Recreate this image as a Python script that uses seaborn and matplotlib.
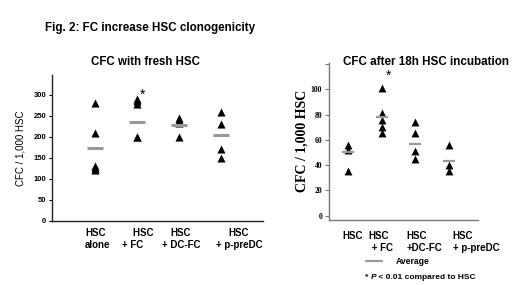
import matplotlib
matplotlib.use('Agg')
import matplotlib.pyplot as plt
from matplotlib.lines import Line2D
import pandas as pd
import seaborn as sns

# ---- data ----
groups_fresh = ['HSC\nalone', '    HSC\n+ FC', 'HSC\n+ DC-FC', 'HSC\n+ p-preDC']
cfc_fresh = [
    [280, 210, 130, 125, 120],
    [290, 285, 278, 200, 200],
    [245, 240, 232, 200],
    [260, 230, 170, 150],
]
mean_fresh = [174, 236, 228, 204]

groups_incub = ['HSC', 'HSC\n + FC', 'HSC\n+DC-FC', 'HSC\n+ p-preDC']
cfc_incub = [
    [56, 52, 35],
    [101, 81, 76, 70, 65],
    [74, 65, 51, 45],
    [56, 40, 35],
]
mean_incub = [50, 78, 57, 43]

fresh_ticks = [0, 50, 100, 150, 200, 250, 300]
incub_ticks = [0, 20, 40, 60, 80, 100, 120]


def to_long(values):
    rows = []
    for i, vals in enumerate(values):
        for v in vals:
            rows.append({'pos': i, 'cfc': v})
    return pd.DataFrame(rows)


def group_labels(ax, labels, offsets_px, align, pad_px):
    # category names under the axis, nudged like in the original slide
    for i, (txt, dx, ma) in enumerate(zip(labels, offsets_px, align)):
        ax.annotate(txt, xy=(i, 0), xycoords=('data', 'axes fraction'),
                    xytext=(dx, -pad_px), textcoords='offset pixels',
                    ha='center', va='top', multialignment=ma,
                    fontsize=7, fontweight='bold', linespacing=1.3)


df_fresh = to_long(cfc_fresh)
df_incub = to_long(cfc_incub)

sns.set_style('white')
plt.rcParams['font.family'] = ['Liberation Sans', 'DejaVu Sans']
plt.rcParams['text.color'] = 'black'
plt.rcParams['axes.labelcolor'] = 'black'
plt.rcParams['xtick.color'] = 'black'
plt.rcParams['ytick.color'] = 'black'

fig = plt.figure(figsize=(5.2, 2.85), dpi=100)
ax1 = fig.add_axes([0.0994, 0.2246, 0.4066, 0.5124])
ax2 = fig.add_axes([0.633, 0.228, 0.286, 0.552])

fig.text(0.087, 0.903, 'Fig. 2: FC increase HSC clonogenicity',
         fontsize=8.4, fontweight='bold', va='center')

# ---- left panel: fresh HSC ----
sns.scatterplot(data=df_fresh, x='pos', y='cfc', marker='^', color='black',
                s=34, linewidth=0, ax=ax1, legend=False)
for i, m in enumerate(mean_fresh):
    ax1.hlines(m, i - 0.19, i + 0.19, color='#999999', lw=2.2)
ax1.annotate('*', xy=(1, max(cfc_fresh[1])), xytext=(2, -2),
             textcoords='offset points', fontsize=10, ha='left', va='bottom')

ax1.set_xlim(-1.03, 4.0)
ax1.set_ylim(0, 347)
ax1.set_yticks(fresh_ticks)
ax1.set_yticklabels([str(t) for t in fresh_ticks], fontsize=5.5, fontweight='bold')
ax1.set_xticks([])
group_labels(ax1, groups_fresh, [3, 1, 2, 18],
             ['left', 'left', 'center', 'center'], 7)
ax1.tick_params(axis='y', length=2, width=0.8, pad=2, left=True)
ax1.set_xlabel('')
ax1.set_ylabel('CFC / 1,000 HSC', fontsize=7, labelpad=6)
ax1.text(0.443, 1.089, 'CFC with fresh HSC', transform=ax1.transAxes,
         fontsize=8.3, fontweight='bold', ha='center', va='center')
for s in ['top', 'right']:
    ax1.spines[s].set_visible(False)
for s in ['left', 'bottom']:
    ax1.spines[s].set_color('#222222')
    ax1.spines[s].set_linewidth(1.0)

# ---- right panel: after 18h incubation ----
sns.scatterplot(data=df_incub, x='pos', y='cfc', marker='^', color='black',
                s=32, linewidth=0, ax=ax2, legend=False)
for i, m in enumerate(mean_incub):
    ax2.hlines(m, i - 0.18, i + 0.18, color='#999999', lw=1.6)
ax2.annotate('*', xy=(1, max(cfc_incub[1])), xytext=(3, 4),
             textcoords='offset points', fontsize=10, ha='left', va='bottom')

ax2.set_xlim(-0.56, 3.86)
ax2.set_ylim(-3.5, 121)
ax2.set_yticks(incub_ticks)
ax2.set_yticklabels([str(t) if t < 120 else '' for t in incub_ticks],
                    fontsize=5.5, fontweight='bold', family='Liberation Serif')
ax2.set_xticks([])
group_labels(ax2, groups_incub, [5, -1, 9, 27],
             ['left', 'left', 'left', 'left'], 11)
ax2.tick_params(axis='y', length=3, width=0.8, pad=2, left=True, color='#777777')
ax2.set_xlabel('')
ax2.set_ylabel('CFC / 1,000 HSC', fontsize=10, fontweight='bold',
               family='Liberation Serif', labelpad=2)
ax2.text(0.648, 1.006, 'CFC after 18h HSC incubation', transform=ax2.transAxes,
         fontsize=8.4, fontweight='bold', ha='center', va='center')
for s in ['top', 'right']:
    ax2.spines[s].set_visible(False)
for s in ['left', 'bottom']:
    ax2.spines[s].set_color('#777777')
    ax2.spines[s].set_linewidth(1.0)

# ---- legend and footnote ----
fig.legend(handles=[Line2D([], [], color='#999999', lw=1.6)], labels=['Average'],
           loc='center left', bbox_to_anchor=(0.704, 0.081), frameon=False,
           prop={'weight': 'bold', 'size': 6.2}, handlelength=1.8,
           handletextpad=1.6, borderpad=0, borderaxespad=0)
t1 = fig.text(0.702, 0.028, '* ', fontsize=6, fontweight='bold', va='center')
t2 = fig.text(0, 0, 'P', fontsize=6, fontweight='bold', style='italic', va='center')
t3 = fig.text(0, 0, ' < 0.01 compared to HSC', fontsize=6, fontweight='bold', va='center')
fig.canvas.draw()
r = fig.canvas.get_renderer()
bb = t1.get_window_extent(r)
t2.set_position((bb.x1 / fig.bbox.width, 0.028))
bb = t2.get_window_extent(r)
t3.set_position((bb.x1 / fig.bbox.width, 0.028))

fig.savefig('out.png', dpi=100)
